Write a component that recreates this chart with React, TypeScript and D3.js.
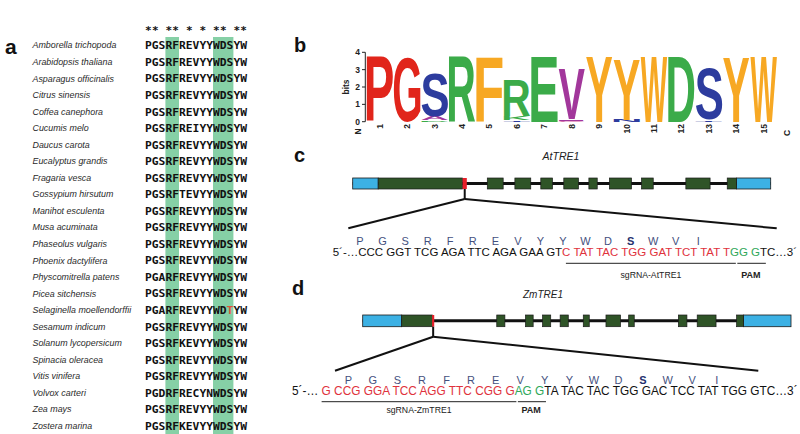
import React from 'react';
import * as d3 from 'd3';

// ---------- Panel a data ----------
const species = [
  'Amborella trichopoda', 'Arabidopsis thaliana', 'Asparagus officinalis', 'Citrus sinensis',
  'Coffea canephora', 'Cucumis melo', 'Daucus carota', 'Eucalyptus grandis', 'Fragaria vesca',
  'Gossypium hirsutum', 'Manihot esculenta', 'Musa acuminata', 'Phaseolus vulgaris',
  'Phoenix dactylifera', 'Physcomitrella patens', 'Picea sitchensis', 'Selaginella moellendorffii',
  'Sesamum indicum', 'Solanum lycopersicum', 'Spinacia oleracea', 'Vitis vinifera',
  'Volvox carteri', 'Zea mays', 'Zostera marina',
];
const sequences = [
  'PGSRFREVYYWDSYW', 'PGSRFREVYYWDSYW', 'PGSRFREVYYWDSYW', 'PGSRFREVYYWDSYW',
  'PGSRFREVYYWDSYW', 'PGSRFREIYYWDSYW', 'PGSRFREVYYWDSYW', 'PGSRFREVYYWDSYW',
  'PGSRFREVYYWDSYW', 'PGSRFTEVYYWDSYW', 'PGSRFREVYYWDSYW', 'PGSRFREVYYWDSYW',
  'PGSRFREVYYWDSYW', 'PGSRFREVYYWDSYW', 'PGARFREVYYWDSYW', 'PGSRFREVYYWDSYW',
  'PGARFREVYYWDTYW', 'PGSRFREVYYWDSYW', 'PGSRFKEVYYWDSYW', 'PGSRFREVYYWDSYW',
  'PGSRFREVYYWDSYW', 'PGDRFRECYNWDSYW', 'PGSRFREVYYWDSYW', 'PGSRFKEVYYWDSYW',
];
const highlightCols = [4, 5, 11, 12, 13];
const highlightRuns = [[4, 5], [11, 13]];

// ---------- Panel b data (sequence logo, bits) ----------
const logoPositions = d3.range(1, 16);
const logoStacks: [string, number][][] = [
  [['P', 3.75]],
  [['G', 3.75]],
  [['D', 0.1], ['A', 0.2], ['S', 2.48]],
  [['R', 3.75]],
  [['F', 3.75]],
  [['T', 0.1], ['K', 0.22], ['R', 2.05]],
  [['E', 3.75]],
  [['C', 0.06], ['I', 0.08], ['V', 2.85]],
  [['Y', 3.75]],
  [['N', 0.12], ['Y', 3.5]],
  [['W', 3.75]],
  [['D', 3.75]],
  [['T', 0.1], ['S', 2.95]],
  [['Y', 3.72]],
  [['W', 3.75]],
];
const logoColors: Record<string, string> = {
  P: '#e1251b', G: '#e1251b', S: '#2d3c9e', T: '#2d3c9e', N: '#2d3c9e',
  R: '#3bab49', E: '#3bab49', D: '#3bab49', K: '#3bab49',
  F: '#f7a823', Y: '#f7a823', W: '#f7a823',
  V: '#a2379b', I: '#a2379b', C: '#d05aa0', A: '#a2379b',
};
const bitTicks = [0, 1, 2, 3, 4];

// ---------- Panel c / d data (gene models, relative units 0-1000) ----------
const geneCUtrs = [[0, 61], [918, 1000]];
const geneCExons = [[61, 263], [322, 360], [388, 426], [450, 478], [505, 540], [565, 585], [614, 667], [691, 719], [797, 855], [896, 918]];
const geneCSite = [263, 273];
const geneDUtrs = [[0, 91], [889, 1000]];
const geneDExons = [[91, 163], [313, 332], [380, 398], [420, 439], [461, 480], [515, 529], [568, 602], [621, 634], [737, 757], [781, 825], [873, 889]];
const geneDSite = [162, 167];

const aminoAcids = ['P', 'G', 'S', 'R', 'F', 'R', 'E', 'V', 'Y', 'Y', 'W', 'D', 'S', 'W', 'V', 'I'];
const boldAA = 12;

const dnaC = [
  { t: '5\u00b4-\u2026CCC GGT TCG AGA TTC AGA GAA GT', role: 'plain' },
  { t: 'C TAT TAC TGG GAT TCT TAT T', role: 'sg' },
  { t: 'GG G', role: 'pam' },
  { t: 'TC\u20263\u00b4', role: 'plain' },
];
const dnaD = [
  { t: '5\u00b4-\u2026 ', role: 'plain' },
  { t: 'G CCG GGA TCC AGG TTC CGG G', role: 'sg' },
  { t: 'AG G', role: 'pam' },
  { t: 'TA TAC TAC TGG GAC TCC TAT TGG GTC\u20263\u00b4', role: 'plain' },
];

const ARIAL = '"Liberation Sans", Arial, sans-serif';
const MONO = '"DejaVu Sans Mono", monospace';
const roleColor: Record<string, string> = { plain: '#111', sg: '#e0323c', pam: '#2fa85a' };

const canvas = document.createElement('canvas');
const ctx = canvas.getContext('2d')!;
function ink(ch: string) {
  ctx.font = 'bold 100px "Liberation Sans"';
  const m = ctx.measureText(ch);
  return { l: -m.actualBoundingBoxLeft, r: m.actualBoundingBoxRight, t: -m.actualBoundingBoxAscent, b: m.actualBoundingBoxDescent };
}
function textW(s: string, size: number) {
  ctx.font = `${size}px "Liberation Sans"`;
  return ctx.measureText(s).width;
}

function Logo() {
  const x = d3.scaleBand<number>().domain(logoPositions).range([366.5, 777]).paddingInner(0.03);
  const y = d3.scaleLinear().domain([0, 4]).range([121.7, 52.3]);
  const bw = x.bandwidth();
  return (
    <g>
      {logoStacks.map((stack, i) => {
        let acc = 0;
        const pos = logoPositions[i];
        return stack.map(([ch, bits], j) => {
          const y0 = y(acc + bits), y1 = y(acc);
          acc += bits;
          const b = ink(ch);
          const sx = bw / (b.r - b.l);
          const sy = (y1 - y0) / (b.b - b.t);
          const tx = (x(pos) as number) - b.l * sx;
          const ty = y0 - b.t * sy;
          return (
            <text key={`${i}-${j}`} transform={`translate(${tx},${ty}) scale(${sx},${sy})`} fontSize={100}
              fontWeight="bold" fontFamily={ARIAL} fill={logoColors[ch]}>{ch}</text>
          );
        });
      })}
      <line x1={365.3} x2={365.3} y1={y(4)} y2={y(0)} stroke="#222" strokeWidth={1} />
      {bitTicks.map(t => (
        <g key={t}>
          <line x1={362} x2={365.3} y1={y(t)} y2={y(t)} stroke="#222" strokeWidth={1} />
          <text x={360} y={y(t) + 3} fontSize={8.5} fontWeight="bold" fontFamily={ARIAL} textAnchor="end" fill="#222">{t}</text>
        </g>
      ))}
      <text transform="translate(348.5,87) rotate(-90)" fontSize={8.5} fontWeight="bold" fontFamily={ARIAL} textAnchor="middle" fill="#222">bits</text>
      {logoPositions.map(p => (
        <text key={p} transform={`translate(${(x(p) as number) + bw / 2 + 3},124) rotate(-90)`} fontSize={8.5}
          fontWeight="bold" fontFamily={ARIAL} textAnchor="end" fill="#222">{p}</text>
      ))}
      <text transform="translate(360.5,131.5) rotate(-90)" fontSize={8.5} fontWeight="bold" fontFamily={ARIAL} textAnchor="middle" fill="#222">N</text>
      <text transform="translate(790,133) rotate(-90)" fontSize={8.5} fontWeight="bold" fontFamily={ARIAL} textAnchor="middle" fill="#222">C</text>
    </g>
  );
}

function Alignment() {
  const col = d3.scaleBand<number>().domain(d3.range(1, 16)).range([145, 247]);
  const row = d3.scaleBand<number>().domain(d3.range(species.length)).range([37, 434]);
  const consensus = d3.range(15).map(i => {
    const counts = d3.rollup(sequences, v => v.length, s => s[i]);
    return d3.greatest(Array.from(counts), d => d[1])![0];
  });
  const conserved = d3.range(15).filter(i => sequences.every(s => s[i] === sequences[0][i]));
  return (
    <g>
      {highlightRuns.map(([a, b]) => (
        <rect key={a} x={col(a)} y={37} width={(col(b) as number) + col.bandwidth() - (col(a) as number)} height={434 - 37} fill="#86d0a6" />
      ))}
      {conserved.map(i => (
        <text key={i} x={(col(i + 1) as number) + col.bandwidth() / 2} y={34} fontSize={11} fontFamily={MONO} fontWeight="bold" textAnchor="middle" fill="#111">*</text>
      ))}
      {species.map((s, r) => {
        const cy = (row(r) as number) + row.bandwidth() / 2;
        return (
          <g key={s}>
            <text x={32.5} y={cy + 3.2} fontSize={8.9} fontStyle="italic" fontFamily={ARIAL} fill="#2a2a2a">{s}</text>
            {sequences[r].split('').map((ch, i) => {
              const red = highlightCols.includes(i + 1) && ch !== consensus[i];
              return (
                <text key={i} x={(col(i + 1) as number) + col.bandwidth() / 2} y={cy + 4.1} fontSize={11.3} fontFamily={MONO}
                  fontWeight="bold" textAnchor="middle" fill={red ? '#e0533a' : '#111'}>{ch}</text>
              );
            })}
          </g>
        );
      })}
    </g>
  );
}

function GeneModel({ utrs, exons, site, x0, x1, top, h, fanY, fanL, fanR }: any) {
  const x = d3.scaleLinear().domain([0, 1000]).range([x0, x1]);
  const sc = x((site[0] + site[1]) / 2);
  return (
    <g>
      <line x1={x0} x2={x1} y1={top + h / 2} y2={top + h / 2} stroke="#111" strokeWidth={3} />
      {utrs.map((u: number[], i: number) => (
        <rect key={'u' + i} x={x(u[0])} y={top} width={x(u[1]) - x(u[0])} height={h} fill="#3cb1e4" stroke="#1a1a1a" strokeWidth={0.8} />
      ))}
      {exons.map((e: number[], i: number) => (
        <rect key={'e' + i} x={x(e[0])} y={top} width={x(e[1]) - x(e[0])} height={h} fill="#2f5427" stroke="#1a1a1a" strokeWidth={0.7} />
      ))}
      <rect x={x(site[0])} y={top} width={x(site[1]) - x(site[0])} height={h} fill="#e8202a" />
      <line x1={sc} x2={sc} y1={top + h} y2={top + h + 10} stroke="#111" strokeWidth={2} />
      <line x1={sc} x2={fanL} y1={top + h + 10} y2={fanY} stroke="#111" strokeWidth={2} />
      <line x1={sc} x2={fanR} y1={top + h + 10} y2={fanY} stroke="#111" strokeWidth={2} />
    </g>
  );
}

function DnaLine({ segs, x0, base, size, aaX0, aaX1, aaY, lineY, labelY, sgLabel }: any) {
  const aa = d3.scalePoint<number>().domain(d3.range(aminoAcids.length)).range([aaX0, aaX1]);
  let cur = x0;
  const spans = segs.map((s: any) => {
    const w = textW(s.t, size);
    const o = { ...s, x: cur, w };
    cur += w;
    return o;
  });
  const sg = spans.find((s: any) => s.role === 'sg');
  const pam = spans.find((s: any) => s.role === 'pam');
  return (
    <g>
      {aminoAcids.map((a, i) => (
        <text key={i} x={aa(i)} y={aaY} fontSize={11} fontFamily={ARIAL} textAnchor="middle"
          fontWeight={i === boldAA ? 'bold' : 'normal'} fill={i === boldAA ? '#26316e' : '#44507e'}>{a}</text>
      ))}
      <text x={x0} y={base} fontSize={size} fontFamily={ARIAL} style={{ whiteSpace: 'pre' }}>
        {spans.map((s: any, i: number) => (
          <tspan key={i} fill={roleColor[s.role]}>{s.t}</tspan>
        ))}
      </text>
      <line x1={sg.x} x2={sg.x + sg.w} y1={lineY} y2={lineY} stroke="#222" strokeWidth={1} />
      <line x1={pam.x + 1.5} x2={pam.x + pam.w} y1={lineY} y2={lineY} stroke="#222" strokeWidth={1} />
      <text x={sg.x + sg.w / 2} y={labelY} fontSize={8.7} fontFamily={ARIAL} textAnchor="middle" fill="#222">{sgLabel}</text>
      <text x={pam.x + pam.w / 2} y={labelY} fontSize={9} fontWeight="bold" fontFamily={ARIAL} textAnchor="middle" fill="#222">PAM</text>
    </g>
  );
}

export default function App() {
  return (
    <svg width={800} height={434} style={{ position: 'fixed', left: 0, top: 0, background: '#fff' }}>
      <rect width={800} height={434} fill="#fff" />
      <text x={5} y={54} fontSize={21} fontWeight="bold" fontFamily={ARIAL} fill="#111">a</text>
      <Alignment />
      <text x={294} y={52} fontSize={20} fontWeight="bold" fontFamily={ARIAL} fill="#111">b</text>
      <Logo />
      <text x={294} y={162} fontSize={20} fontWeight="bold" fontFamily={ARIAL} fill="#111">c</text>
      <text x={561} y={160} fontSize={10.5} fontStyle="italic" fontFamily={ARIAL} textAnchor="middle" fill="#222">AtTRE1</text>
      <GeneModel utrs={geneCUtrs} exons={geneCExons} site={geneCSite} x0={352.7} x1={770.7} top={178} h={11}
        fanY={228.3} fanL={348.3} fanR={776.7} />
      <DnaLine segs={dnaC} x0={332.7} base={255.5} size={11.5} aaX0={360} aaX1={698.3} aaY={245}
        lineY={263.3} labelY={278} sgLabel="sgRNA-AtTRE1" />
      <text x={292} y={295} fontSize={20} fontWeight="bold" fontFamily={ARIAL} fill="#111">d</text>
      <text x={543} y={298} fontSize={10} fontStyle="italic" fontFamily={ARIAL} textAnchor="middle" fill="#222">ZmTRE1</text>
      <GeneModel utrs={geneDUtrs} exons={geneDExons} site={geneDSite} x0={362.7} x1={791} top={315} h={11.7}
        fanY={370.7} fanL={335} fanR={758.3} />
      <DnaLine segs={dnaD} x0={292} base={395} size={11.85} aaX0={348.3} aaX1={716.7} aaY={384}
        lineY={401.7} labelY={412.5} sgLabel="sgRNA-ZmTRE1" />
    </svg>
  );
}
